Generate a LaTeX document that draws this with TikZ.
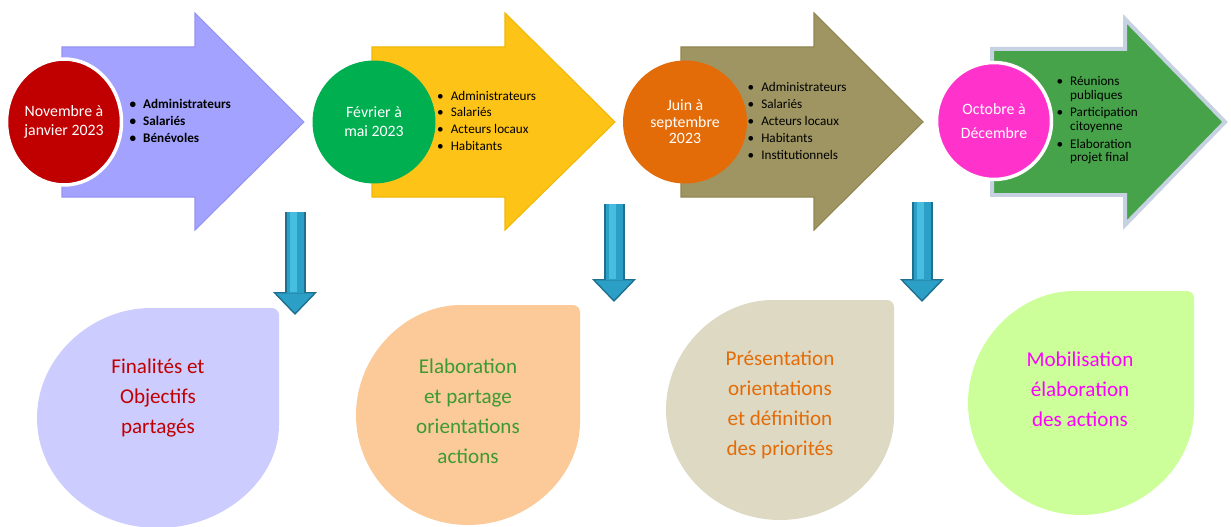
\documentclass[tikz,border=0pt]{standalone}
\usepackage{fontspec}
\setmainfont{Carlito}
\usetikzlibrary{shapes.geometric,positioning,arrows.meta}

\definecolor{lavarrow}{HTML}{A3A3FF}
\definecolor{lavedge}{HTML}{9494F0}
\definecolor{goldarrow}{HTML}{FDC317}
\definecolor{goldedge}{HTML}{F2B705}
\definecolor{olivearrow}{HTML}{9E9562}
\definecolor{oliveedge}{HTML}{8F8650}
\definecolor{greenarrow}{HTML}{47A34A}
\definecolor{greenedge}{HTML}{C6D1E1}
\definecolor{redphase}{HTML}{C00000}
\definecolor{greenphase}{HTML}{00B050}
\definecolor{orangephase}{HTML}{E36C09}
\definecolor{pinkphase}{HTML}{FF33CC}
\definecolor{goalone}{HTML}{CCCCFF}
\definecolor{goaltwo}{HTML}{FBCA98}
\definecolor{goalthree}{HTML}{DDD9C3}
\definecolor{goalfour}{HTML}{CCFF99}
\definecolor{textgreen}{HTML}{3C9A34}
\definecolor{textpink}{HTML}{FF00FF}
\definecolor{arrowdark}{HTML}{1F7090}
\definecolor{arrowmid}{HTML}{2C9FC6}
\definecolor{arrowlight}{HTML}{45BEDF}

\begin{document}
\begin{tikzpicture}[x=0.02cm,y=-0.02cm,
		phase node/.style={ellipse,inner sep=0pt,align=center,text=white,font=\fontsize{9}{10.8}\selectfont},
		list node/.style={inner sep=0pt,font=\fontsize{7.5}{9.6}\selectfont},
		goal node/.style={align=center,font=\fontsize{12}{17}\selectfont},
		big arrow/.style={line width=0.6pt,line join=miter},
		drop/.style={rounded corners=4pt},
		down arrow/.style={draw=arrowdark,line width=0.42cm,-{Triangle[width=0.88cm,length=0.46cm,line width=0.8pt,fill=arrowmid]}},
		down body/.style={draw=arrowmid,line width=0.34cm,shorten >=0.44cm},
		down glow/.style={draw=arrowlight,line width=0.14cm,shorten >=0.46cm,transform canvas={xshift=-0.04cm}}]
	\useasboundingbox (0,0) rectangle (1231,527);

	% big arrows
	\filldraw[big arrow,fill=lavarrow,draw=lavedge] (62,47) -- (195,47) -- (195,13) -- (304,122) -- (195,230) -- (195,197) -- (62,197) -- cycle;
	\filldraw[big arrow,fill=goldarrow,draw=goldedge] (372,47) -- (505,47) -- (505,13) -- (615,122) -- (505,230) -- (505,197) -- (372,197) -- cycle;
	\filldraw[big arrow,fill=olivearrow,draw=oliveedge] (681,47) -- (814,47) -- (814,13) -- (923,122) -- (814,230) -- (814,197) -- (681,197) -- cycle;
	\filldraw[big arrow,fill=greenarrow,draw=greenedge,line width=0.08cm] (992,49) -- (1125,49) -- (1125,19) -- (1225,122) -- (1125,225) -- (1125,195) -- (992,195) -- cycle;

	% teardrops
	\fill[drop,goalone] (279,308) -- (158,308) arc[start angle=270,end angle=0,x radius=121,y radius=110] -- cycle;
	\fill[drop,goaltwo] (580,305) -- (468,305) arc[start angle=270,end angle=0,x radius=112,y radius=110] -- cycle;
	\fill[drop,goalthree] (894,300) -- (780,300) arc[start angle=270,end angle=0,x radius=114,y radius=110] -- cycle;
	\fill[drop,goalfour] (1194,291) -- (1081,291) arc[start angle=270,end angle=0,x radius=113,y radius=112] -- cycle;

	\node[phase node,fill=redphase,draw=white,line width=0.07cm,minimum width=2.3cm,minimum height=2.52cm] (p1) at (64,122) {Novembre à\\janvier 2023};
	\node[phase node,fill=greenphase,minimum width=2.46cm,minimum height=2.46cm] (p2) at (374,122) {Février à\\mai 2023};
	\node[phase node,fill=orangephase,minimum width=2.48cm,minimum height=2.46cm,font=\fontsize{9}{9.4}\selectfont] (p3) at (685,122) {Juin à\\septembre\\2023};
	\node[phase node,fill=pinkphase,draw=white,line width=0.07cm,minimum width=2.3cm,minimum height=2.34cm,font=\fontsize{9}{13.6}\selectfont] (p4) at (994,121) {Octobre à\\Décembre};

	\node[list node,font=\fontsize{7.5}{9.6}\selectfont\bfseries,right=0.12cm of p1] (l1) {\begin{tabular}{@{}l@{\hspace{4pt}}l@{}}
		\textbullet & Administrateurs\\
		\textbullet & Salariés\\
		\textbullet & Bénévoles
	\end{tabular}};
	\node[list node,right=0.02cm of p2] (l2) {\begin{tabular}{@{}l@{\hspace{4pt}}l@{}}
		\textbullet & Administrateurs\\
		\textbullet & Salariés\\
		\textbullet & Acteurs locaux\\
		\textbullet & Habitants
	\end{tabular}};
	\node[list node,right=0cm of p3] (l3) {\begin{tabular}{@{}l@{\hspace{4pt}}l@{}}
		\textbullet & Administrateurs\\
		\textbullet & Salariés\\
		\textbullet & Acteurs locaux\\
		\textbullet & Habitants\\
		\textbullet & Institutionnels
	\end{tabular}};
	\node[list node,font=\fontsize{7.5}{7.7}\selectfont,right=0.06cm of p4] (l4) {\begin{tabular}{@{}l@{\hspace{4pt}}l@{}}
		\textbullet & Réunions\\
		 & publiques\\[2.5pt]
		\textbullet & Participation\\
		 & citoyenne\\[2.5pt]
		\textbullet & Elaboration\\
		 & projet final
	\end{tabular}};

	\node[goal node,text=redphase] (g1) at (158,398) {Finalités et\\Objectifs\\partagés};
	\node[goal node,text=textgreen] (g2) at (468,411) {Elaboration\\et partage\\orientations\\actions};
	\node[goal node,text=orangephase] (g3) at (780,405) {Présentation\\orientations\\et définition\\des priorités};
	\node[goal node,text=textpink] (g4) at (1080,389) {Mobilisation\\élaboration\\des actions};

	\coordinate (t1) at (295,212);
	\coordinate (b1) at (295,315);
	\coordinate (t2) at (614,204);
	\coordinate (b2) at (614,302);
	\coordinate (t3) at (922,202);
	\coordinate (b3) at (922,302);

	\path
	(t1) edge[down arrow] (b1)
	(t2) edge[down arrow] (b2)
	(t3) edge[down arrow] (b3)
	(t1) edge[down body] (b1)
	(t2) edge[down body] (b2)
	(t3) edge[down body] (b3)
	(t1) edge[down glow] (b1)
	(t2) edge[down glow] (b2)
	(t3) edge[down glow] (b3)
;
\end{tikzpicture}
\end{document}
